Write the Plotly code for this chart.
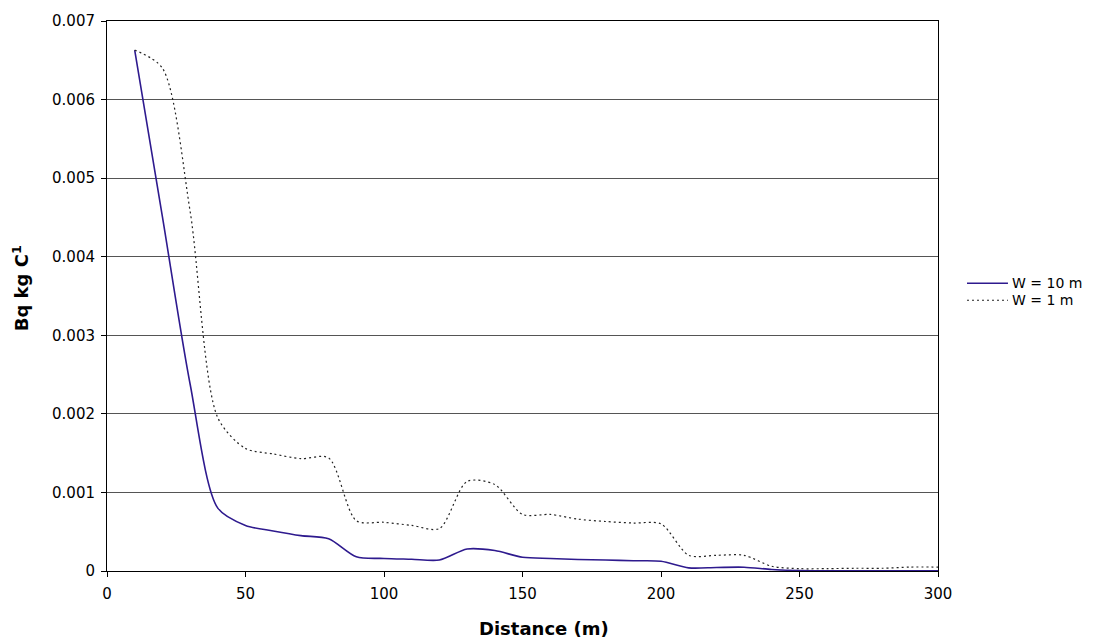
import plotly.graph_objects as go

distance = [10, 20, 30, 40, 50, 60, 70, 80, 90, 100, 110, 120, 130, 140, 150,
            160, 170, 180, 190, 200, 210, 220, 230, 240, 250, 260, 270, 280, 290, 300]
w10 = [0.00663, 0.00451, 0.00238, 0.00080, 0.00058, 0.00051, 0.00045, 0.00041,
       0.00018, 0.00016, 0.00015, 0.00014, 0.00028, 0.00026, 0.000175, 0.00016,
       0.000146, 0.00014, 0.00013, 0.000124, 0.00004, 0.000045, 0.000048, 0.00002,
       0.000005, 0.000003, 0.000003, 0.000003, 0.000003, 0.000003]
w1 = [0.00663, 0.00640, 0.00458, 0.00195, 0.00156, 0.00149, 0.00143, 0.00144,
      0.00064, 0.00062, 0.00058, 0.00054, 0.00114, 0.00110, 0.00072, 0.00072,
      0.00066, 0.00063, 0.00061, 0.00060, 0.00020, 0.00020, 0.00020, 0.00006,
      0.00003, 0.00003, 0.000035, 0.000035, 0.00005, 0.00005]

series_names = ["W = 10 m", "W = 1 m"]
x_ticks = [0, 50, 100, 150, 200, 250, 300]
y_ticks = [0, 0.001, 0.002, 0.003, 0.004, 0.005, 0.006, 0.007]
y_ticktext = ["0", "0.001", "0.002", "0.003", "0.004", "0.005", "0.006", "0.007"]
x_title = "Distance (m)"
y_title = "Bq kg C<sup>1</sup>"

font = "DejaVu Sans, Verdana, sans-serif"
colors = ["#2E1A8E", "#222222"]
dashes = ["solid", "2px,3px"]
widths = [1.6, 1.2]

fig = go.Figure()
for name, ys, c, d, w in zip(series_names, [w10, w1], colors, dashes, widths):
    fig.add_trace(go.Scatter(x=distance, y=ys, mode="lines", name=name, showlegend=False,
                             line=dict(color=c, width=w, dash=d, shape="spline", smoothing=0.8)))

# legend drawn as line samples + labels (paper coordinates)
leg_rows = [0.5231, 0.4923]
for name, yy, c, d, w in zip(series_names, leg_rows, colors, dashes, widths):
    fig.add_shape(type="line", xref="paper", yref="paper", x0=1.0349, x1=1.0842,
                  y0=yy, y1=yy, line=dict(color=c, width=w, dash=d))
    fig.add_annotation(text=name, xref="paper", yref="paper", x=1.0867, y=yy,
                       xanchor="left", yanchor="middle", showarrow=False,
                       font=dict(size=14, family=font, color="black"))

fig.add_annotation(text="<b>" + x_title + "</b>", xref="paper", yref="paper",
                   x=0.526, y=-0.104, xanchor="center", yanchor="middle", showarrow=False,
                   font=dict(size=18, family=font, color="black"))
fig.add_annotation(text="<b>" + y_title + "</b>", xref="paper", yref="paper",
                   x=-0.1035, y=0.514, xanchor="center", yanchor="middle", showarrow=False,
                   textangle=-90, font=dict(size=18, family=font, color="black"))

fig.update_layout(
    width=1093, height=641,
    margin=dict(l=107, r=155, t=19, b=70),
    paper_bgcolor="white", plot_bgcolor="white",
    font=dict(family=font, size=15, color="black"),
    showlegend=False,
    xaxis=dict(range=[0, 300], tickvals=x_ticks, ticks="outside", ticklen=5,
               ticklabelstandoff=4,
               tickcolor="black", showline=True, linecolor="black", linewidth=1,
               mirror=True, showgrid=False, zeroline=False),
    yaxis=dict(range=[0, 0.007], tickvals=y_ticks, ticktext=y_ticktext,
               ticks="outside", ticklen=5, tickcolor="black", ticklabelstandoff=3,
               showline=True, linecolor="black", linewidth=1, mirror=True,
               showgrid=True, gridcolor="#555555", gridwidth=1, zeroline=False),
)

fig.write_html("out.html")
